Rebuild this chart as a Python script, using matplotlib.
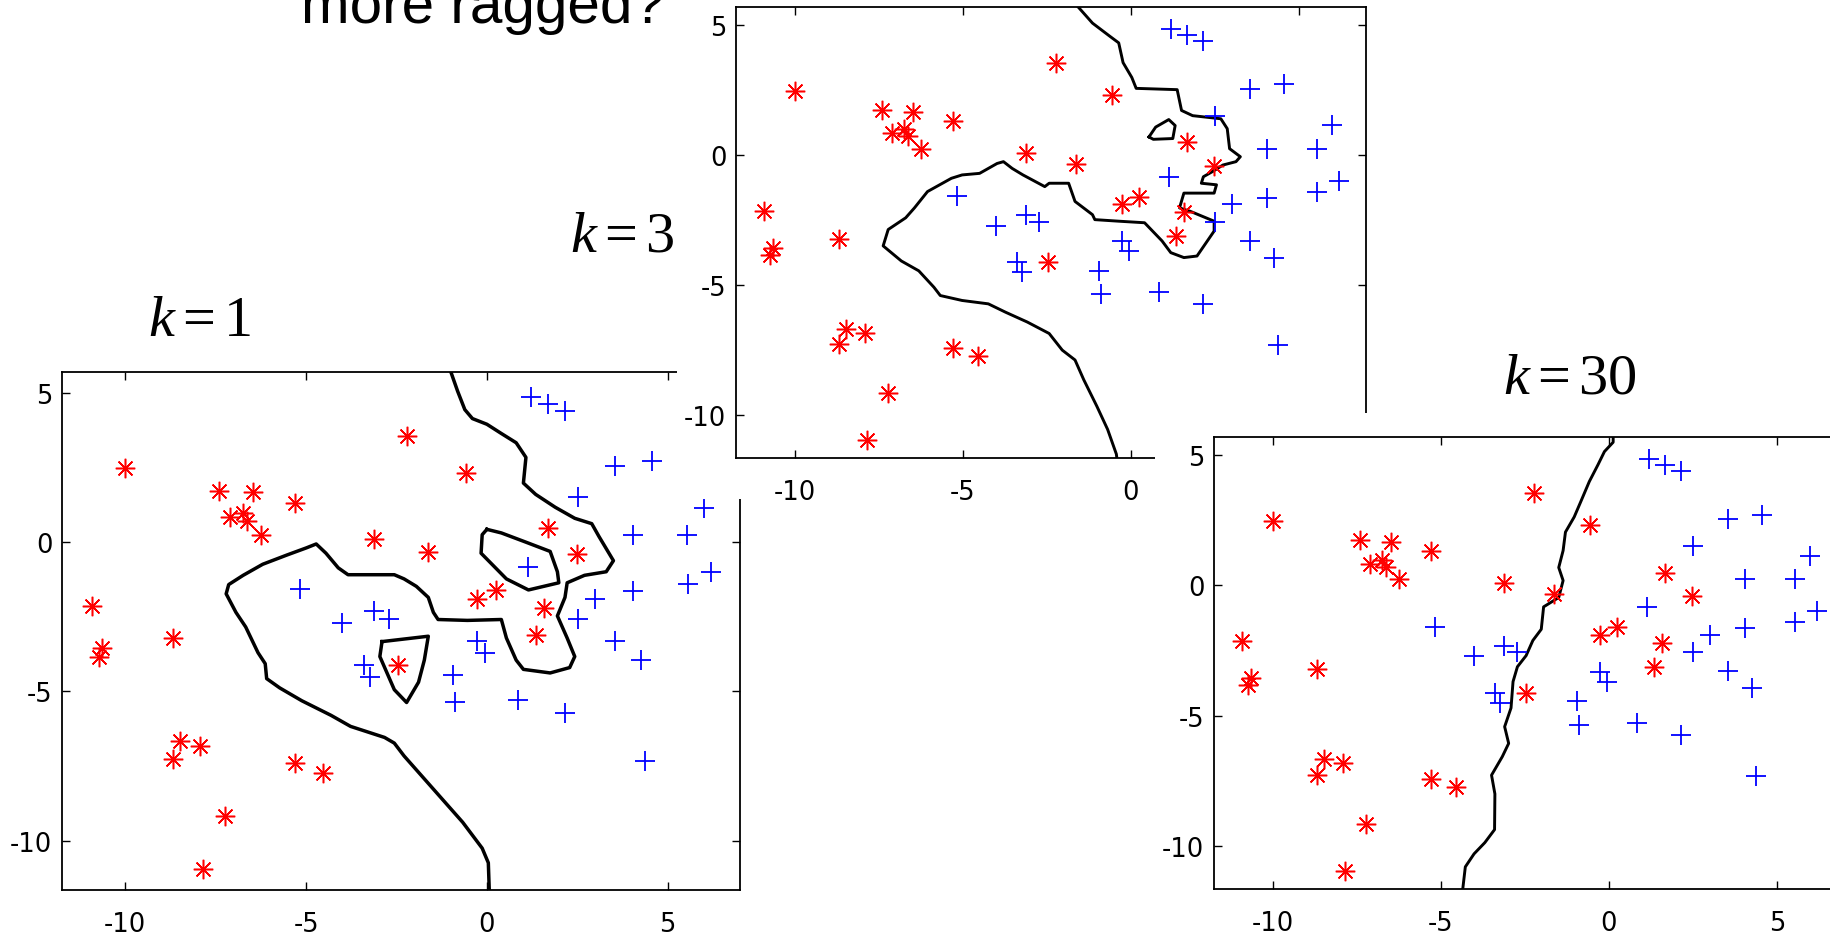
import numpy as np
import matplotlib
matplotlib.use("Agg")
import matplotlib.pyplot as plt
from matplotlib.patches import Rectangle

plt.rcParams['axes.unicode_minus'] = False
plt.rcParams['mathtext.fontset'] = 'custom'
plt.rcParams['mathtext.rm'] = 'Liberation Serif'
plt.rcParams['mathtext.it'] = 'Liberation Serif:italic'

# training points (same in all three panels)
red_x = [-10.0, -7.41, -6.47, -5.30, -7.10, -6.74, -6.63, -6.24, -3.13, -2.22,
         -0.57, -1.62, 1.68, 2.49, -0.27, 0.24, 1.59, 1.35, -2.47, -10.92,
         -8.69, -10.65, -10.74, -8.49, -8.69, -7.92, -5.30, -4.54, -7.24, -7.84]
red_y = [2.47, 1.73, 1.67, 1.32, 0.84, 0.99, 0.72, 0.25, 0.09, 3.54,
         2.31, -0.33, 0.49, -0.40, -1.89, -1.60, -2.20, -3.12, -4.11, -2.14,
         -3.21, -3.56, -3.83, -6.67, -7.26, -6.83, -7.41, -7.74, -9.16, -10.95]
blue_x = [1.21, 1.68, 2.16, 3.54, 4.56, 2.52, 6.0, 4.04, 5.53, 6.2,
          5.55, 4.04, 3.0, 2.52, 1.15, 3.54, 4.25, 4.38, 2.16, 0.85,
          -0.88, -0.94, -0.27, -0.04, -5.16, -4.0, -3.13, -2.72, -3.40, -3.23]
blue_y = [4.85, 4.63, 4.38, 2.56, 2.72, 1.51, 1.15, 0.25, 0.25, -0.99,
          -1.40, -1.64, -1.89, -2.57, -0.83, -3.30, -3.95, -7.32, -5.72, -5.28,
          -5.35, -4.44, -3.31, -3.70, -1.58, -2.72, -2.31, -2.57, -4.11, -4.51]

# decision boundaries
k1_main_x = [-1.01, -0.81, -0.61, -0.40, 0.0, 0.40, 0.81, 1.08, 1.01, 1.35, 1.89, 2.43, 2.90,
             3.10, 3.50, 3.30, 2.70, 2.22, 2.16, 1.95, 2.22, 2.43, 2.29, 1.75, 1.01, 0.81,
             0.54, 0.40, -0.54, -1.35, -1.48, -1.62, -1.95, -2.29, -2.56, -3.84, -4.11,
             -4.45, -4.72, -4.99, -5.53, -6.2, -6.74, -7.14, -7.21, -6.94, -6.67, -6.33,
             -6.13, -6.09, -5.73, -5.12, -4.31, -3.77, -2.83, -2.56, -2.29, -1.75, -1.21,
             -0.67, -0.13, 0.04, 0.07]
k1_main_y = [5.75, 5.06, 4.44, 4.14, 3.95, 3.64, 3.33, 2.84, 1.98, 1.60, 1.17, 0.80, 0.62,
             0.19, -0.62, -0.99, -1.11, -1.36, -1.85, -2.47, -3.21, -3.83, -4.20, -4.38,
             -4.26, -3.95, -3.21, -2.59, -2.62, -2.59, -2.35, -1.85, -1.48, -1.23, -1.09,
             -1.09, -0.86, -0.37, -0.06, -0.19, -0.43, -0.74, -1.11, -1.42, -1.73, -2.35,
             -2.84, -3.70, -4.07, -4.57, -4.88, -5.31, -5.80, -6.17, -6.54, -6.73, -7.16,
             -7.90, -8.64, -9.38, -10.25, -10.74, -11.8]
k1_loop1_x = [0.0, 0.40, 1.08, 1.75, 1.95, 1.99, 1.15, 0.54, -0.16, -0.13, 0.0]
k1_loop1_y = [0.43, 0.31, 0.0, -0.31, -0.99, -1.36, -1.60, -1.23, -0.37, 0.25, 0.43]
k1_loop2_x = [-2.90, -1.62, -1.73, -1.89, -2.22, -2.56, -2.96, -2.90]
k1_loop2_y = [-3.33, -3.15, -3.95, -4.69, -5.37, -4.94, -3.83, -3.33]

k3_main_x = [-1.60, -1.14, -0.62, -0.36, -0.23, 0.03, 0.16, 1.38, 1.51, 1.84, 2.68, 2.87, 2.94,
             3.26, 3.13, 2.74, 2.42, 2.16, 2.10, 2.55, 2.48, 1.58, 1.45, 1.77, 2.48, 2.48,
             1.97, 1.58, 1.19, 0.93, 0.41, -0.36, -1.07, -1.14, -1.66, -1.85, -2.43, -2.56,
             -3.21, -3.53, -3.79, -3.98, -4.50, -5.02, -5.34, -6.05, -6.44, -6.70, -7.22,
             -7.37, -6.83, -6.31, -5.86, -5.67, -5.02, -4.24, -3.73, -3.08, -2.43, -2.04,
             -1.66, -1.40, -1.01, -0.69, -0.43, -0.40]
k3_main_y = [5.75, 5.08, 4.57, 4.32, 3.56, 2.99, 2.57, 2.52, 1.72, 1.52, 1.40, 1.02, 0.25,
             -0.06, -0.25, -0.38, -0.64, -0.83, -1.08, -1.14, -1.46, -1.46, -2.03, -2.16,
             -2.54, -2.92, -3.88, -3.94, -3.75, -3.30, -2.60, -2.54, -2.48, -2.29, -1.78,
             -1.08, -1.08, -1.21, -0.76, -0.51, -0.25, -0.32, -0.70, -0.76, -0.89, -1.40,
             -2.03, -2.41, -2.86, -3.49, -4.07, -4.45, -5.08, -5.40, -5.59, -5.72, -6.04,
             -6.42, -6.86, -7.50, -7.88, -8.64, -9.66, -10.55, -11.50, -11.8]
k3_loop_x = [0.54, 0.74, 1.13, 1.32, 1.25, 0.67, 0.54]
k3_loop_y = [0.70, 1.08, 1.37, 1.14, 0.64, 0.61, 0.70]

k30_x = [0.13, 0.13, -0.13, -0.32, -0.58, -0.84, -1.03, -1.29, -1.36, -1.49, -1.36, -1.49,
         -1.94, -2.01, -2.26, -2.46, -2.72, -2.85, -2.91, -3.10, -2.98, -3.17, -3.49,
         -3.39, -3.40, -3.69, -4.01, -4.27, -4.36]
k30_y = [5.75, 5.50, 5.14, 4.64, 3.99, 3.20, 2.63, 2.05, 1.34, 0.69, 0.19, -0.46, -0.82,
         -1.68, -2.11, -2.69, -3.12, -3.69, -4.70, -5.42, -6.06, -6.57, -7.28, -8.0,
         -9.37, -9.87, -10.30, -10.80, -11.8]

xticks = [-10, -5, 0, 5]
yticks = [-10, -5, 0, 5]

W, H = 1830, 937
fig = plt.figure(figsize=(W / 100, H / 100), dpi=100)


def box(l, t, r, b):
    return [l / W, 1 - b / H, (r - l) / W, (b - t) / H]


def panel(pos, z, lines, lw):
    ax = fig.add_axes(box(*pos), zorder=z)
    for lx, ly in lines:
        ax.plot(lx, ly, color='black', lw=lw, solid_joinstyle='round')
    ax.plot(red_x, red_y, ls='none', marker=(8, 2, 0), ms=14, mew=1.1, color='#ff0000')
    ax.plot(blue_x, blue_y, ls='none', marker='+', ms=15, mew=1.3, color='#0000ff')
    ax.set_xlim(-11.75, 7.0)
    ax.set_ylim(-11.65, 5.7)
    ax.set_xticks(xticks)
    ax.set_yticks(yticks)
    ax.tick_params(direction='in', length=6, width=1.0, top=True, right=True,
                   labelsize=18.5)
    ax.tick_params(axis='x', pad=15)
    ax.tick_params(axis='y', pad=7)
    for lab in ax.get_xticklabels() + ax.get_yticklabels():
        lab.set_fontfamily('DejaVu Sans')
    for s in ax.spines.values():
        s.set_linewidth(1.3)
    return ax


def cover(l, t, r, b, z):
    fig.add_artist(Rectangle((l / W, 1 - b / H), (r - l) / W, (b - t) / H,
                             transform=fig.transFigure, facecolor='white',
                             edgecolor='none', zorder=z))


panel((62, 373, 740, 891), 1,
      [(k1_main_x, k1_main_y), (k1_loop1_x, k1_loop1_y), (k1_loop2_x, k1_loop2_y)], 2.5)
cover(677, 0, 1420, 500, 1.5)
panel((736, 8, 1366, 459), 2, [(k3_main_x, k3_main_y), (k3_loop_x, k3_loop_y)], 2.1)
cover(1155, 414, 1830, 937, 2.5)
panel((1214, 438, 1844, 890), 3, [(k30_x, k30_y)], 2.1)

fig.text(301 / W, 1 - 23 / H, "more ragged?", fontsize=42, family='Liberation Sans',
         ha='left', va='baseline', zorder=5)
fig.text(148 / W, 1 - 336 / H, r"$k=1$", fontsize=42, ha='left', va='baseline', zorder=5)
fig.text(570 / W, 1 - 252 / H, r"$k=3$", fontsize=42, ha='left', va='baseline', zorder=5)
fig.text(1503 / W, 1 - 393 / H, r"$k=30$", fontsize=42, ha='left', va='baseline', zorder=5)

fig.savefig("out.png", dpi=100)
